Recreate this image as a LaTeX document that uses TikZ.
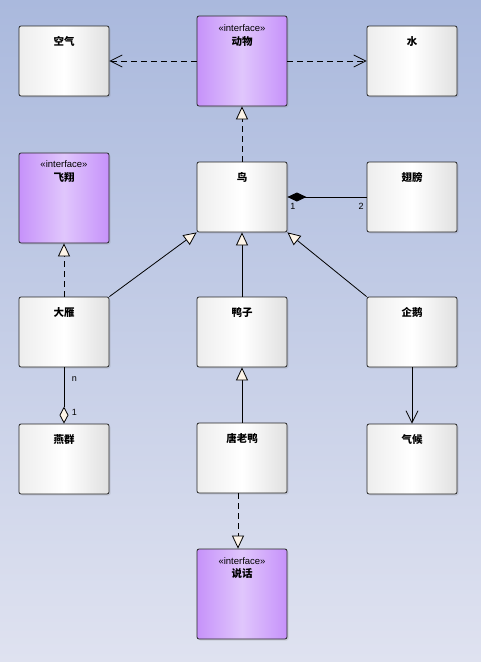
\documentclass[tikz,border=0pt]{standalone}
\usepackage{fontspec}
\setmainfont{Liberation Sans}
\newfontfamily\cjk{Noto Sans CJK SC}
\usetikzlibrary{arrows.meta,shadows}

\definecolor{bgtop}{RGB}{170,185,221}
\definecolor{bgbot}{RGB}{223,226,240}
\definecolor{boxgray}{RGB}{224,224,224}
\definecolor{ifdark}{RGB}{198,146,250}
\definecolor{iflight}{RGB}{224,198,252}
\definecolor{tipfill}{RGB}{253,244,232}

\tikzset{
  cls/.style={draw=black!85, line width=0.8pt, rounded corners=2pt,
    minimum width=90pt, minimum height=70pt, inner sep=0pt,
    left color=white!93!black, right color=boxgray, middle color=white,
    drop shadow={opacity=0.2, shadow xshift=1.5pt, shadow yshift=-1.5pt}},
  iface/.style={cls, minimum height=90pt,
    left color=ifdark, right color=ifdark, middle color=iflight},
  ttl/.style={font=\cjk\bfseries\fontsize{10.5}{12}\selectfont, inner sep=0pt},
  stereo/.style={font=\fontsize{9.5}{11}\selectfont, inner sep=0pt},
  mult/.style={font=\fontsize{9}{10}\selectfont, inner sep=1.5pt},
  link/.style={line width=0.8pt},
  realize/.style={link, dash pattern=on 6pt off 4pt,
    -{Triangle[open, fill=tipfill, length=13pt, width=12pt]}},
  inherit/.style={link, -{Triangle[open, fill=tipfill, length=13pt, width=12pt]}},
  depend/.style={link, dash pattern=on 6pt off 4pt,
    -{Straight Barb[length=12pt, width=12pt]}},
  assoc/.style={link, -{Straight Barb[length=12pt, width=12pt]}},
  compose/.style={link, {Diamond[length=19pt, width=9pt]}-},
  aggregate/.style={link, -{Diamond[open, fill=tipfill, length=17pt, width=9pt]}}
}

\begin{document}
\begin{tikzpicture}[x=1pt, y=-1pt]
  % background
  \fill[top color=bgtop, bottom color=bgbot] (0,0) rectangle (481,662);
  \useasboundingbox (0,0) rectangle (481,662);

  % first row
  \node[cls] (kongqi) at (64,61) {};
  \node[ttl] (kongqiT) at ([yshift=-16pt]kongqi.north) {空气};
  \node[iface] (dongwu) at (242,61) {};
  \node[stereo] (dongwuS) at ([yshift=-13pt]dongwu.north) {«interface»};
  \node[ttl] (dongwuT) at ([yshift=-26pt]dongwu.north) {动物};
  \node[cls] (shui) at (412,61) {};
  \node[ttl] (shuiT) at ([yshift=-16pt]shui.north) {水};

  % second row
  \node[iface] (feixiang) at (64,198) {};
  \node[stereo] (feixiangS) at ([yshift=-12pt]feixiang.north) {«interface»};
  \node[ttl] (feixiangT) at ([yshift=-25pt]feixiang.north) {飞翔};
  \node[cls] (niao) at (242,197) {};
  \node[ttl] (niaoT) at ([yshift=-16pt]niao.north) {鸟};
  \node[cls] (chibang) at (412,197) {};
  \node[ttl] (chibangT) at ([yshift=-16pt]chibang.north) {翅膀};

  % third row
  \node[cls] (dayan) at (64,332) {};
  \node[ttl] (dayanT) at ([yshift=-16pt]dayan.north) {大雁};
  \node[cls] (yazi) at (242,332) {};
  \node[ttl] (yaziT) at ([yshift=-16pt]yazi.north) {鸭子};
  \node[cls] (qie) at (412,332) {};
  \node[ttl] (qieT) at ([yshift=-16pt]qie.north) {企鹅};

  % fourth row
  \node[cls] (yanqun) at (64,459) {};
  \node[ttl] (yanqunT) at ([yshift=-16pt]yanqun.north) {燕群};
  \node[cls] (tanglaoya) at (242,458) {};
  \node[ttl] (tanglaoyaT) at ([yshift=-16pt]tanglaoya.north) {唐老鸭};
  \node[cls] (qihou) at (412,459) {};
  \node[ttl] (qihouT) at ([yshift=-16pt]qihou.north) {气候};

  % interface at the bottom
  \node[iface] (shuohua) at (242,594) {};
  \node[stereo] (shuohuaS) at ([yshift=-12pt]shuohua.north) {«interface»};
  \node[ttl] (shuohuaT) at ([yshift=-25pt]shuohua.north) {说话};

  % dependencies
  \draw[depend] (dongwu.west) -- (kongqi.east);
  \draw[depend] (dongwu.east) -- (shui.west);

  % realizations
  \draw[realize] (niao.north) -- (dongwu.south);
  \draw[realize] (dayan.north) -- (feixiang.south);
  \draw[realize] ([xshift=-4pt]tanglaoya.south) -- ([xshift=-4pt]shuohua.north);

  % generalizations
  \draw[inherit] (dayan.north east) -- (niao.south west);
  \draw[inherit] (yazi.north) -- (niao.south);
  \draw[inherit] (qie.north west) -- (niao.south east);
  \draw[inherit] (tanglaoya.north) -- (yazi.south);

  % composition and aggregation
  \draw[compose] (niao.east) -- (chibang.west)
    node[mult, pos=0, below right, xshift=1pt, yshift=-4pt] (m1) {1}
    node[mult, pos=1, below left, xshift=-1pt, yshift=-4pt] (m2) {2};
  \draw[aggregate] (dayan.south) -- (yanqun.north)
    node[mult, pos=0.2, right=6pt] (mn) {n}
    node[mult, pos=0.8, right=6pt] (m3) {1};

  % association
  \draw[assoc] (qie.south) -- (qihou.north);
\end{tikzpicture}
\end{document}
